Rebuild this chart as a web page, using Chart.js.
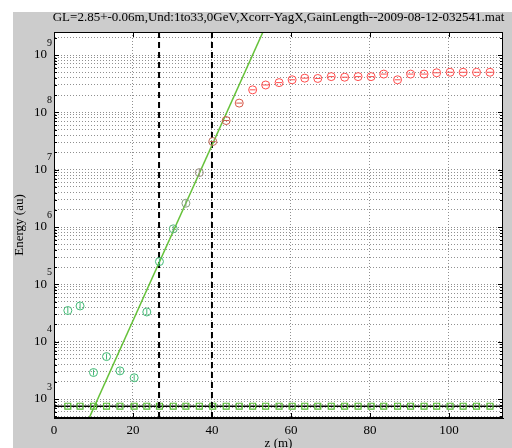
<!DOCTYPE html>
<html>
<head>
<meta charset="utf-8">
<script src="https://cdn.jsdelivr.net/npm/chart.js@4"></script>
<style>
  html, body { margin: 0; padding: 0; background: #fff; }
  canvas { display: block; }
</style>
</head>
<body>
<canvas id="myChart" width="512" height="448"></canvas>
<script>
let TITLE = 'GL=2.85+-0.06m,Und:1to33,0GeV,Xcorr-YagX,GainLength--2009-08-12-032541.mat';
let SERIF = '"Liberation Serif", "DejaVu Serif", serif';

// undulator positions (m) and measured energy per point
let zPos = [3.5, 6.6, 10.0, 13.3, 16.7, 20.3, 23.5, 26.7, 30.2, 33.4, 36.8,
    40.2, 43.6, 46.9, 50.3, 53.6, 57.0, 60.3, 63.5, 66.8, 70.2, 73.6,
    77.0, 80.3, 83.5, 87.0, 90.3, 93.7, 96.9, 100.3, 103.6, 107.0, 110.4];
let energy = [3.5e4, 4.2e4, 2.9e3, 5.5e3, 3.1e3, 2.35e3, 3.3e4, 2.5e5, 9.3e5, 2.6e6, 8.9e6,
    3.1e7, 7.2e7, 1.45e8, 2.47e8, 3.0e8, 3.3e8, 3.7e8, 3.95e8, 3.9e8, 4.2e8, 4.1e8,
    4.2e8, 4.2e8, 4.65e8, 3.7e8, 4.65e8, 4.65e8, 4.9e8, 5.0e8, 5.0e8, 5.0e8, 5.0e8];
// background level (squares)
let background = [750, 750, 750, 750, 750, 750, 750, 750, 750, 750, 750,
    750, 750, 750, 750, 750, 750, 750, 750, 750, 750, 750,
    750, 750, 750, 750, 750, 750, 750, 750, 750, 750, 750];
let pointColors = ['#44bb77', '#44bb77', '#44bb77', '#44bb77', '#44bb77', '#44bb77', '#44bb77',
    '#44bb77', '#55b377', '#88a080', '#999080', '#c06a5a', '#cc5a4c', '#d85848',
    '#ff4c4c', '#ff4c4c', '#ff4c4c', '#ff4c4c', '#ff4c4c', '#ff4c4c', '#ff4c4c', '#ff4c4c',
    '#ff4c4c', '#ff4c4c', '#ff4c4c', '#ff4c4c', '#ff4c4c', '#ff4c4c', '#ff4c4c', '#ff4c4c',
    '#ff4c4c', '#ff4c4c', '#ff4c4c'];

// fit line end points and the two cut lines
let fitZ = [8.5, 54];
let fitE = [405, 3.7e9];
let cutZ = [26.6, 40];
let levelZ = [0, 114];
let levelE = [750, 750];

let xTicks = [0, 20, 40, 60, 80, 100];
let yDecades = [2, 3, 4, 5, 6, 7, 8, 9];
let Y_MIN = 467;
let Y_MAX = 2.52e9;
let X_MIN = 0;
let X_MAX = 113.7;

let GRID = '#909090';

let yTicks = [];
for (let d of yDecades) {
    for (let m = 1; m <= 9; m++) {
        let v = m * Math.pow(10, d);
        if (v >= Y_MIN && v <= Y_MAX) yTicks.push(v);
    }
}
function isDecade(v) {
    let e = Math.log10(v);
    return Math.abs(e - Math.round(e)) < 1e-9;
}
function pts(xs, ys) {
    return xs.map((x, i) => ({ x: x, y: ys[i] }));
}

let frame = {
    id: 'frame',
    beforeDraw(chart) {
        let c = chart.ctx, a = chart.chartArea;
        c.save();
        c.fillStyle = '#fff';
        c.fillRect(0, 0, chart.width, chart.height);
        c.fillStyle = '#cccccc';
        c.fillRect(13, 12, chart.width - 13, chart.height - 12);
        c.fillStyle = '#fff';
        c.fillRect(a.left, a.top, a.right - a.left, a.bottom - a.top);
        c.restore();
    },
    afterDraw(chart) {
        let c = chart.ctx, a = chart.chartArea;
        let xs = chart.scales.x, ys = chart.scales.y;
        c.save();
        c.strokeStyle = '#000';
        c.lineWidth = 1;
        c.strokeRect(a.left + 0.5, a.top + 0.5, a.right - a.left - 1, a.bottom - a.top - 1);
        // inner ticks
        c.beginPath();
        for (let v of xTicks) {
            let px = Math.round(xs.getPixelForValue(v)) + 0.5;
            c.moveTo(px, a.bottom); c.lineTo(px, a.bottom - 5);
            c.moveTo(px, a.top); c.lineTo(px, a.top + 5);
        }
        for (let v of yTicks) {
            let py = Math.round(ys.getPixelForValue(v)) + 0.5;
            let len = isDecade(v) ? 5 : 3;
            c.moveTo(a.left, py); c.lineTo(a.left + len, py);
            c.moveTo(a.right, py); c.lineTo(a.right - len, py);
        }
        c.stroke();
        // exponents
        c.fillStyle = '#000';
        c.font = '10px ' + SERIF;
        c.textAlign = 'left';
        c.textBaseline = 'middle';
        for (let v of yTicks) {
            if (!isDecade(v)) continue;
            let py = ys.getPixelForValue(v);
            c.fillText(String(Math.round(Math.log10(v))), 47, py - 12);
        }
        // title
        c.font = '13px ' + SERIF;
        c.textAlign = 'center';
        c.fillText(TITLE, (a.left + a.right) / 2, 18);
        c.restore();
    }
};

let ctx = document.getElementById('myChart').getContext('2d');
let myChart = new Chart(ctx, {
    type: 'scatter',
    data: {
        datasets: [
            {
                label: 'energy',
                data: pts(zPos, energy),
                pointStyle: 'circle',
                pointRadius: 4,
                pointBorderWidth: 1,
                pointBorderColor: pointColors,
                pointBackgroundColor: 'rgba(0,0,0,0)',
                order: 1
            },
            {
                label: 'error',
                data: pts(zPos, energy),
                pointStyle: 'line',
                pointRadius: 3,
                pointBorderWidth: 1,
                pointRotation: pointColors.map((c, i) => i < 11 ? 90 : 0),
                pointBorderColor: pointColors,
                order: 1
            },
            {
                label: 'fit',
                data: pts(fitZ, fitE),
                showLine: true,
                borderColor: '#66c23a',
                borderWidth: 1.5,
                pointRadius: 0,
                order: 2
            },
            {
                label: 'cut1',
                data: pts([cutZ[0], cutZ[0]], [Y_MIN, Y_MAX]),
                showLine: true,
                borderColor: '#000',
                borderWidth: 2,
                borderDash: [6, 4],
                pointRadius: 0,
                order: 3
            },
            {
                label: 'cut2',
                data: pts([cutZ[1], cutZ[1]], [Y_MIN, Y_MAX]),
                showLine: true,
                borderColor: '#000',
                borderWidth: 2,
                borderDash: [6, 4],
                pointRadius: 0,
                order: 3
            },
            {
                label: 'background',
                data: pts(zPos, background),
                pointStyle: 'rect',
                pointRadius: 4.2,
                pointBorderWidth: 1.2,
                pointBorderColor: '#55bb33',
                pointBackgroundColor: 'rgba(0,0,0,0)',
                order: 4
            },
            {
                label: 'level',
                data: pts(levelZ, levelE),
                showLine: true,
                borderColor: '#000',
                borderWidth: 1.5,
                pointRadius: 0,
                order: 5
            }
        ]
    },
    options: {
        responsive: false,
        animation: false,
        devicePixelRatio: 1,
        layout: { padding: { left: 0, top: 32, right: 9, bottom: 0 } },
        plugins: {
            legend: { display: false },
            tooltip: { enabled: false }
        },
        scales: {
            x: {
                type: 'linear',
                min: X_MIN,
                max: X_MAX,
                afterBuildTicks: s => { s.ticks = xTicks.map(v => ({ value: v })); },
                afterFit: s => { s.height = 30; },
                grid: { color: GRID, lineWidth: 1, drawTicks: false },
                border: { display: true, color: '#000', width: 1, dash: [1, 2] },
                ticks: {
                    padding: 5, color: '#000', maxRotation: 0, autoSkip: false,
                    font: { family: SERIF, size: 13 }
                },
                title: {
                    display: true, text: 'z (m)', color: '#000',
                    font: { family: SERIF, size: 13 },
                    padding: { top: 0, bottom: -3 }
                }
            },
            y: {
                type: 'logarithmic',
                min: Y_MIN,
                max: Y_MAX,
                afterBuildTicks: s => { s.ticks = yTicks.map(v => ({ value: v, major: isDecade(v) })); },
                afterFit: s => { s.width = 54; },
                grid: { color: GRID, lineWidth: 1, drawTicks: false },
                border: { display: true, color: '#000', width: 1, dash: [1, 2] },
                ticks: {
                    padding: 7, color: '#000', autoSkip: false,
                    font: { family: SERIF, size: 13 },
                    callback: v => isDecade(v) ? '10' : ''
                },
                title: {
                    display: true, text: 'Energy (au)', color: '#000',
                    font: { family: SERIF, size: 13 },
                    padding: { top: 12, bottom: 0 }
                }
            }
        }
    },
    plugins: [frame]
});
</script>
</body>
</html>
